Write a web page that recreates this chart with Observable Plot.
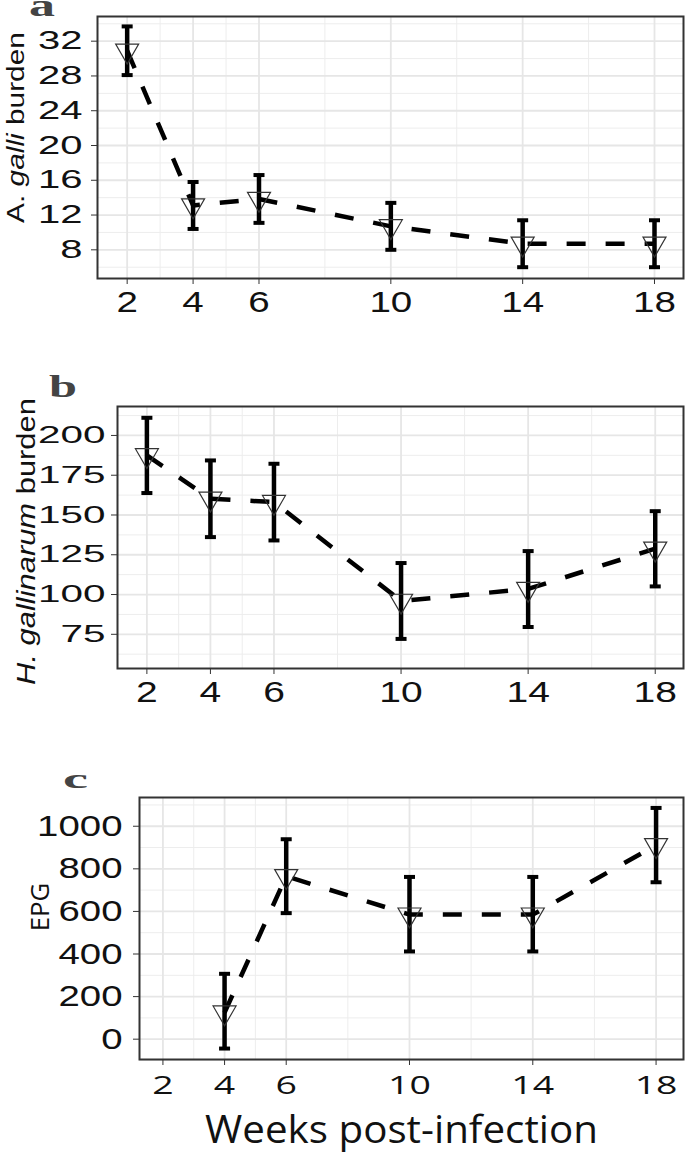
<!DOCTYPE html>
<html>
<head>
<meta charset="utf-8">
<script src="https://cdn.jsdelivr.net/npm/d3@7"></script>
<script src="https://cdn.jsdelivr.net/npm/@observablehq/plot@0.6"></script>
<style>
  html, body { margin: 0; padding: 0; background: white; }
  #chart { position: relative; width: 685px; height: 1153px; background: white; overflow: hidden; }
  #chart svg { position: absolute; left: 0; overflow: visible; }
</style>
</head>
<body>
<div id="chart"></div>
<script>
// ---------- data ----------
const weeks = [2, 4, 6, 10, 14, 18];
const xTicks = [2, 4, 6, 10, 14, 18];
const xMinor = [3, 5, 8, 12, 16];

const aMean = [30.9, 13.1, 13.85, 10.7, 8.7, 8.7];
const aLo   = [28.1, 10.4, 11.1, 8.0, 6.0, 6.0];
const aHi   = [33.7, 15.8, 16.6, 13.4, 11.4, 11.4];
const aTicks = [8, 12, 16, 20, 24, 28, 32];
const aMinor = [6, 10, 14, 18, 22, 26, 30, 34];

const bMean = [187.5, 160.2, 158.1, 96, 103.5, 128.8];
const bLo   = [163.8, 136.1, 134.0, 72.1, 79.6, 105.1];
const bHi   = [211.1, 184.3, 182.2, 119.8, 127.3, 152.4];
const bTicks = [75, 100, 125, 150, 175, 200];
const bMinor = [62.5, 87.5, 112.5, 137.5, 162.5, 187.5, 212.5];

const cWeeks = [4, 6, 10, 14, 18];
const cMean = [125, 765, 585, 585, 911];
const cLo   = [-44, 592, 412, 412, 737];
const cHi   = [307, 939, 762, 762, 1086];
const cTicks = [0, 200, 400, 600, 800, 1000];
const cMinor = [-100, 100, 300, 500, 700, 900, 1100];

// ---------- symbols ----------
const capSymbol = {draw(ctx, size) { const r = Math.sqrt(size / Math.PI); ctx.moveTo(-r, 0); ctx.lineTo(r, 0); }};
const downTriangle = {draw(ctx, size) {
  const r = Math.sqrt(size / Math.PI), h = r * Math.sqrt(3);
  ctx.moveTo(-r, -h / 3); ctx.lineTo(r, -h / 3); ctx.lineTo(0, 2 * h / 3); ctx.closePath();
}};

const chart = document.getElementById("chart");

function stretchText(el, sx) {
  const t = el.getAttribute("transform");
  if (t) {
    el.setAttribute("transform", t + ` scale(${sx},1)`);
  } else {
    const x = el.getAttribute("x") || 0, y = el.getAttribute("y") || 0;
    el.removeAttribute("x"); el.removeAttribute("y");
    el.setAttribute("transform", `translate(${x},${y}) scale(${sx},1)`);
  }
}

function panel(cfg) {
  const data = cfg.weeks.map((w, i) => ({week: w, mean: cfg.mean[i], lo: cfg.lo[i], hi: cfg.hi[i]}));
  const svg = Plot.plot({
    width: 685, height: cfg.height,
    marginTop: cfg.mt, marginBottom: cfg.mb, marginLeft: cfg.ml, marginRight: 2,
    x: {domain: cfg.xDomain},
    y: {domain: cfg.yDomain},
    style: {fontFamily: "Liberation Sans, Arial, sans-serif", color: "#111", background: "white"},
    marks: [
      Plot.ruleX(xMinor, {stroke: "#EDEDED", strokeWidth: 1}),
      Plot.ruleY(cfg.yMinor, {stroke: "#EDEDED", strokeWidth: 1}),
      Plot.ruleX(xTicks, {stroke: "#E6E6E6", strokeWidth: 1.8}),
      Plot.ruleY(cfg.yTicks, {stroke: "#E6E6E6", strokeWidth: 1.8}),
      Plot.line(data, {x: "week", y: "mean", stroke: "black", strokeWidth: 4.5, strokeDasharray: "19,20", strokeLinecap: "butt"}),
      Plot.ruleX(data, {x: "week", y1: "lo", y2: "hi", stroke: "black", strokeWidth: 4.5}),
      Plot.dot(data, {x: "week", y: "hi", symbol: capSymbol, r: 5.5, stroke: "black", strokeWidth: 4, fill: "none"}),
      Plot.dot(data, {x: "week", y: "lo", symbol: capSymbol, r: 5.5, stroke: "black", strokeWidth: 4, fill: "none"}),
      Plot.dot(data, {x: "week", y: "mean", symbol: downTriangle, r: 11.5, stroke: "#333", strokeWidth: 1.2, fill: "none"}),
      Plot.frame({stroke: "#333", strokeWidth: 2}),
      Plot.axisX(xTicks, {tickSize: 6, tickPadding: cfg.xPad, tickFormat: d => `${d}`, stroke: "#333", label: null,
        fontSize: cfg.xFont, fontFamily: cfg.xFamily}),
      Plot.axisY(cfg.yTicks, {tickSize: 6, tickPadding: cfg.yPad, tickFormat: d => `${d}`, stroke: "#333", label: null,
        fontSize: cfg.yFont})
    ]
  });
  svg.style.top = cfg.top + "px";
  chart.appendChild(svg);
  svg.querySelectorAll('[aria-label="x-axis tick label"]').forEach(g => {
    g.setAttribute("font-size", cfg.xFont); g.setAttribute("font-family", cfg.xFamily);
    g.querySelectorAll("text").forEach(t => stretchText(t, cfg.xSx));
  });
  svg.querySelectorAll('[aria-label="y-axis tick label"]').forEach(g => {
    g.setAttribute("font-size", cfg.yFont);
    g.querySelectorAll("text").forEach(t => stretchText(t, cfg.ySx));
  });
  return svg;
}

function addText(svg, {x, y, rotate = 0, anchor = "middle", size, family, fill = "#111", weight = "normal", parts, target}) {
  const t = d3.select(svg).append("text")
    .attr("text-anchor", anchor).attr("font-size", size).attr("font-family", family)
    .attr("font-weight", weight).attr("fill", fill);
  parts.forEach(p => t.append("tspan").attr("font-style", p.italic ? "italic" : "normal").text(p.text));
  const base = `translate(${x},${y})` + (rotate ? ` rotate(${rotate})` : "");
  t.attr("transform", base);
  const w = t.node().getBBox().width;
  if (target && w > 0) t.attr("transform", base + ` scale(${target / w},1)`);
}

const sans = "Liberation Sans, Arial, sans-serif";
const calib = "Open Sans, Noto Sans, sans-serif";
const serif = "Liberation Serif, DejaVu Serif, serif";

// Panel a
const sa = panel({top: 0, height: 360, mt: 16, mb: 82, ml: 97,
  weeks, mean: aMean, lo: aLo, hi: aHi, yTicks: aTicks, yMinor: aMinor,
  xDomain: [1.1, 18.88], yDomain: [4.7, 34.84],
  xPad: 7, xFont: 29, xFamily: sans, xSx: 1.33, yPad: 9, yFont: 25, ySx: 1.6});
addText(sa, {x: 24, y: 127.5, rotate: -90, size: 24, family: sans,
  parts: [{text: "A. "}, {text: "galli", italic: true}, {text: " burden"}], target: 191});
addText(sa, {x: 29, y: 15.5, anchor: "start", size: 32, family: serif, weight: "bold", fill: "#444",
  parts: [{text: "a"}], target: 26});

// Panel b
const sb = panel({top: 360, height: 400, mt: 46, mb: 92, ml: 117,
  weeks, mean: bMean, lo: bLo, hi: bHi, yTicks: bTicks, yMinor: bMinor,
  xDomain: [1.075, 18.89], yDomain: [53.5, 218.2],
  xPad: 6, xFont: 30, xFamily: sans, xSx: 1.3, yPad: 6, yFont: 23.5, ySx: 1.72});
addText(sb, {x: 35, y: 181.5, rotate: -90, size: 26, family: sans,
  parts: [{text: "H. gallinarum", italic: true}, {text: " burden"}], target: 287});
addText(sb, {x: 49, y: 37.3, anchor: "start", size: 32, family: serif, weight: "bold", fill: "#444",
  parts: [{text: "b"}], target: 28});

// Panel c
const sc = panel({top: 760, height: 393, mt: 37, mb: 94, ml: 139,
  weeks: cWeeks, mean: cMean, lo: cLo, hi: cHi, yTicks: cTicks, yMinor: cMinor,
  xDomain: [1.24, 18.89], yDomain: [-95.4, 1135],
  xPad: 11, xFont: 25, xFamily: calib, xSx: 1.5, yPad: 11, yFont: 30, ySx: 1.28});
addText(sc, {x: 49, y: 147, rotate: -90, size: 26, family: calib, parts: [{text: "EPG"}], target: 48.7});
addText(sc, {x: 63, y: 28.3, anchor: "start", size: 28, family: serif, weight: "bold", fill: "#444",
  parts: [{text: "c"}], target: 25});
addText(sc, {x: 401.5, y: 383, size: 38, family: calib, parts: [{text: "Weeks post-infection"}], target: 393});
</script>
</body>
</html>
